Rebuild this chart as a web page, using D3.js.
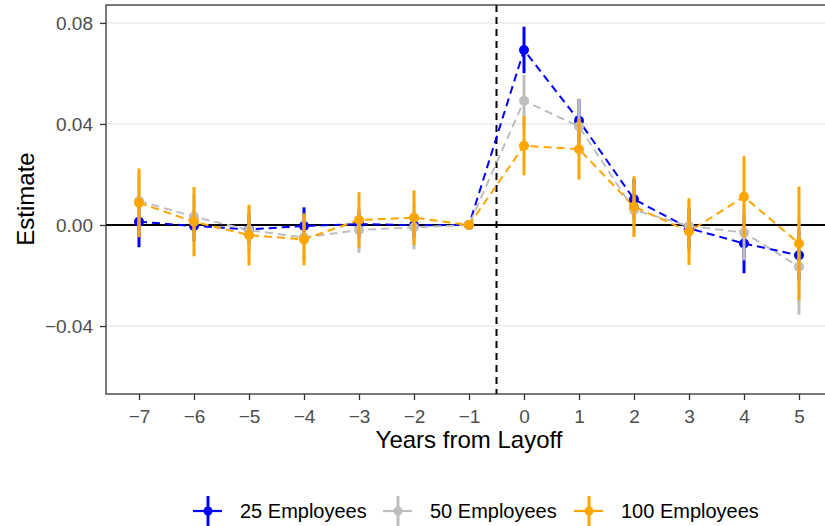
<html>
<head>
<meta charset="utf-8">
<script src="https://d3js.org/d3.v7.min.js"></script>
<style>
  body { margin: 0; background: #fff; }
  text { font-family: "Liberation Sans", Arial, sans-serif; }
</style>
</head>
<body>
<script>
// data
var years = [-7, -6, -5, -4, -3, -2, -1, 0, 1, 2, 3, 4, 5];
var yTicks = [-0.04, 0.00, 0.04, 0.08];
var seriesNames = ["25 Employees", "50 Employees", "100 Employees"];

var est25 = [0.0013, -0.0004, -0.0017, -0.0004, 0.0004, -0.0001, 0, 0.0693, 0.0413, 0.0102, -0.0013, -0.0073, -0.0120];
var ci25  = [0.0101, 0.0060, 0.0060, 0.0074, 0.0050, 0.0050, 0, 0.0092, 0.0086, 0.0080, 0.0080, 0.0118, 0.0100];
var est50 = [0.0095, 0.0033, -0.0020, -0.0049, -0.0020, -0.0009, 0, 0.0492, 0.0390, 0.0060, -0.0004, -0.0030, -0.0165];
var ci50  = [0.0110, 0.0090, 0.0090, 0.0090, 0.0090, 0.0087, 0, 0.0102, 0.0110, 0.0105, 0.0100, 0.0110, 0.0190];
var est100 = [0.0088, 0.0013, -0.0040, -0.0057, 0.0020, 0.0029, 0, 0.0314, 0.0300, 0.0073, -0.0026, 0.0112, -0.0073];
var ci100  = [0.0136, 0.0137, 0.0120, 0.0103, 0.0110, 0.0108, 0, 0.0117, 0.0120, 0.0120, 0.0132, 0.0161, 0.0225];

var colors = ["#0000ff", "#bebebe", "#ffa500"];
var ests = [est25, est50, est100];
var cis = [ci25, ci50, ci100];

var w = 825, h = 526;
var pL = 106, pR = 832, pT = 5, pB = 394; // panel edges

var svg = d3.select("body").append("svg").attr("width", w).attr("height", h);

var x = d3.scaleLinear().domain([-7.6, 5.6]).range([pL, pR]);
var y = d3.scaleLinear().domain([-0.0669, 0.0871]).range([pB, pT]);

// grid
svg.append("g").selectAll("line").data(yTicks).enter().append("line")
  .attr("x1", pL).attr("x2", pR)
  .attr("y1", function(d){ return y(d); }).attr("y2", function(d){ return y(d); })
  .attr("stroke", "#ebebeb").attr("stroke-width", 1.6);

// zero line and layoff marker
svg.append("line").attr("x1", pL).attr("x2", pR).attr("y1", y(0)).attr("y2", y(0))
  .attr("stroke", "#000").attr("stroke-width", 2);
svg.append("line").attr("x1", x(-0.5)).attr("x2", x(-0.5)).attr("y1", pT).attr("y2", pB)
  .attr("stroke", "#000").attr("stroke-width", 2).attr("stroke-dasharray", "7,5");

// dashed lines
var line = d3.line().x(function(d){ return x(d[0]); }).y(function(d){ return y(d[1]); });
ests.forEach(function(e, i){
  svg.append("path").attr("d", line(d3.zip(years, e)))
    .attr("fill", "none").attr("stroke", colors[i]).attr("stroke-width", 2)
    .attr("stroke-dasharray", "8,5");
});

// point ranges
ests.forEach(function(e, i){
  var g = svg.append("g");
  var rows = d3.zip(years, e, cis[i]);
  g.selectAll("line").data(rows).enter().append("line")
    .attr("x1", function(d){ return x(d[0]); }).attr("x2", function(d){ return x(d[0]); })
    .attr("y1", function(d){ return y(d[1] - d[2]); }).attr("y2", function(d){ return y(d[1] + d[2]); })
    .attr("stroke", colors[i]).attr("stroke-width", 3);
  g.selectAll("circle").data(rows).enter().append("circle")
    .attr("cx", function(d){ return x(d[0]); }).attr("cy", function(d){ return y(d[1]); })
    .attr("r", 5).attr("fill", colors[i]);
});

// panel border
svg.append("rect").attr("x", pL).attr("y", pT).attr("width", pR - pL).attr("height", pB - pT)
  .attr("fill", "none").attr("stroke", "#333").attr("stroke-width", 1.3);

var fmt = function(d, dec){
  var s = Math.abs(d).toFixed(dec);
  return (d < 0 ? "\u2212" : "") + s;
};

var yAxis = d3.axisLeft(y).tickValues(yTicks).tickSize(6).tickPadding(7)
  .tickFormat(function(d){ return fmt(d, 2); });
var ya = svg.append("g").attr("transform", "translate(" + pL + ",0)").call(yAxis);
var xAxis = d3.axisBottom(x).tickValues(years).tickSize(6).tickPadding(10)
  .tickFormat(function(d){ return fmt(d, 0); });
var xa = svg.append("g").attr("transform", "translate(0," + pB + ")").call(xAxis);
[ya, xa].forEach(function(a){
  a.select(".domain").remove();
  a.selectAll(".tick line").attr("stroke", "#333").attr("stroke-width", 1.3);
  a.selectAll(".tick text").attr("fill", "#4d4d4d").style("font-size", "19px")
    .style("font-family", "'Liberation Sans', Arial, sans-serif");
});

// titles
svg.append("text").attr("x", 469).attr("y", 448).attr("text-anchor", "middle")
  .style("font-size", "24px").attr("fill", "#000").text("Years from Layoff");
svg.append("text").attr("transform", "translate(34,199) rotate(-90)")
  .attr("text-anchor", "middle").style("font-size", "24px").attr("fill", "#000").text("Estimate");

// legend
var legX = [208, 398, 589];
seriesNames.forEach(function(n, i){
  var g = svg.append("g").attr("transform", "translate(" + legX[i] + ",511)");
  g.append("line").attr("x1", -15).attr("x2", 14).attr("y1", 0).attr("y2", 0)
    .attr("stroke", colors[i]).attr("stroke-width", 2.2);
  g.append("line").attr("x1", 0).attr("x2", 0).attr("y1", -15).attr("y2", 17)
    .attr("stroke", colors[i]).attr("stroke-width", 3);
  g.append("circle").attr("r", 4.5).attr("fill", colors[i]);
  g.append("text").attr("x", 32).attr("y", 6.5).style("font-size", "20px").attr("fill", "#000").text(n);
});
</script>
</body>
</html>
